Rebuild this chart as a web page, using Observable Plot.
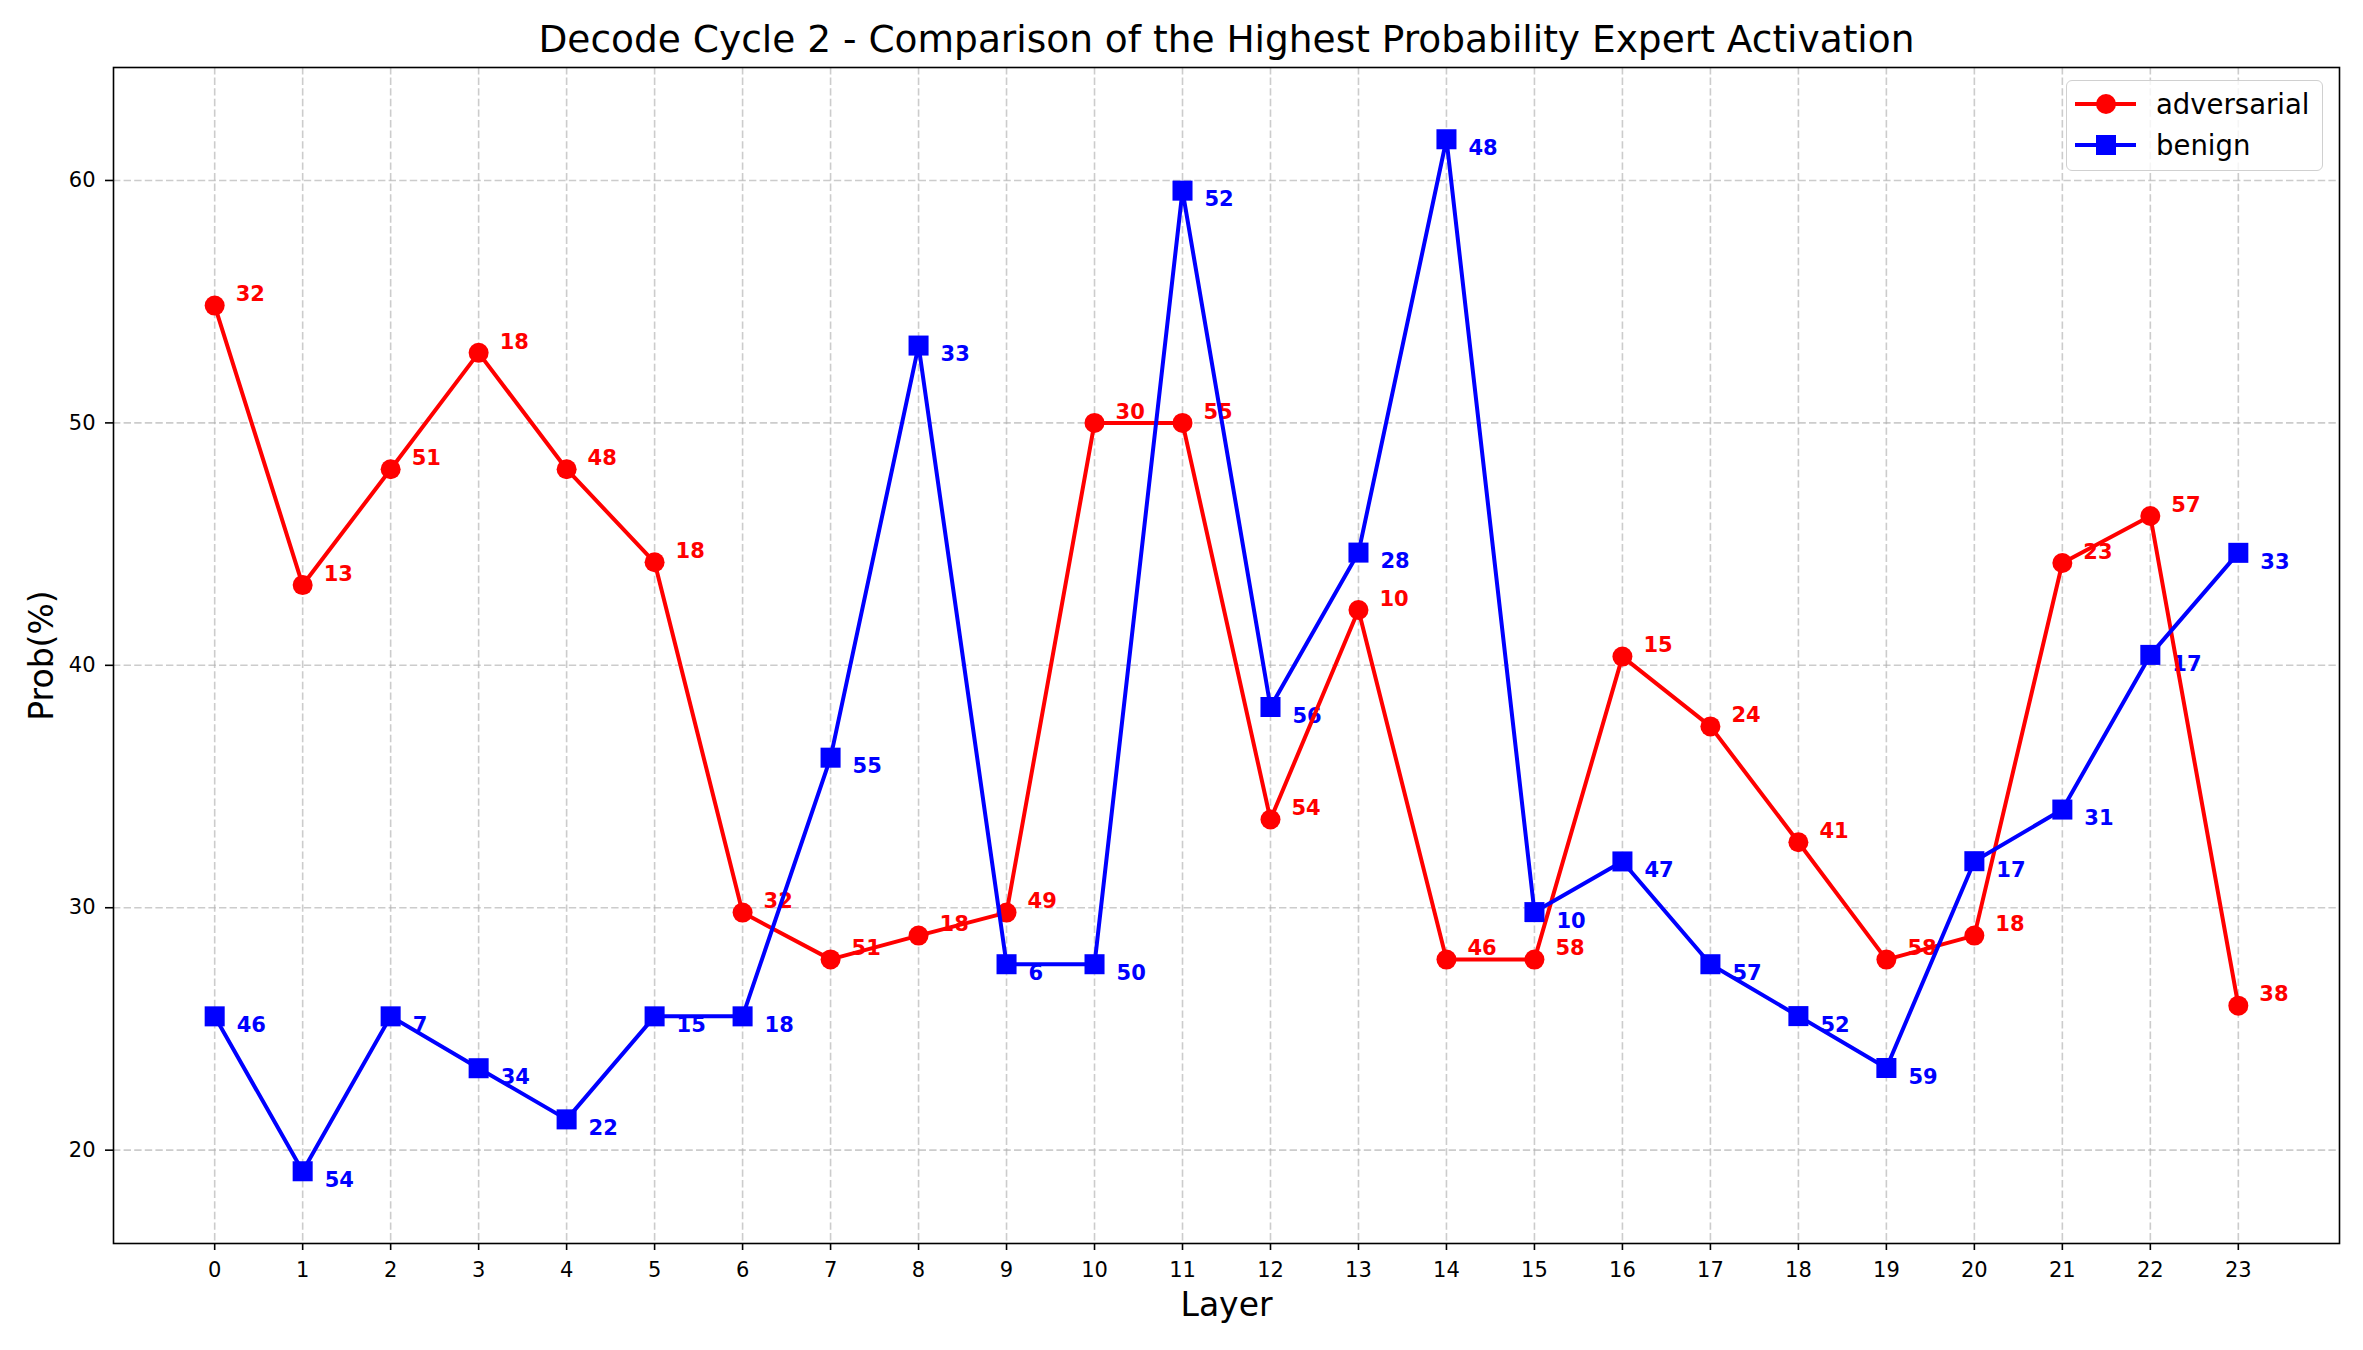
<!DOCTYPE html>
<html>
<head>
<meta charset="utf-8">
<script src="https://cdn.jsdelivr.net/npm/d3@7"></script>
<script src="https://cdn.jsdelivr.net/npm/@observablehq/plot@0.6"></script>
<style>
  html, body { margin: 0; padding: 0; background: white; overflow: hidden; }
  #wrap { position: relative; width: 2363px; height: 1350px; }
  #legend { position: absolute; left: 2066px; top: 80px; width: 257px; height: 91px;
            box-sizing: border-box; border: 1.6px solid #d0d0d0; border-radius: 6px;
            background: rgba(255,255,255,0.8); }
  #legend svg { position: absolute; left: 0; top: 0; }
</style>
</head>
<body>
<div id="wrap"></div>
<script>
const titleText = "Decode Cycle 2 - Comparison of the Highest Probability Expert Activation";
const xLabel = "Layer";
const yLabel = "Prob(%)";
const seriesNames = ["adversarial", "benign"];
const layers = [0,1,2,3,4,5,6,7,8,9,10,11,12,13,14,15,16,17,18,19,20,21,22,23];
const yTicks = [20, 30, 40, 50, 60];

const advProb = [54.84, 43.31, 48.09, 52.89, 48.09, 44.25, 29.8, 27.87, 28.85, 29.8, 50.0, 50.0,
                 33.64, 42.28, 27.86, 27.86, 40.36, 37.48, 32.7, 27.86, 28.85, 44.22, 46.16, 25.96];
const advExpert = [32, 13, 51, 18, 48, 18, 32, 51, 18, 49, 30, 55, 54, 10, 46, 58, 15, 24, 41, 58, 18, 23, 57, 38];

const benProb = [25.52, 19.13, 25.52, 23.38, 21.27, 25.52, 25.52, 36.19, 53.19, 27.67, 27.67, 59.58,
                 38.28, 44.65, 61.70, 29.82, 31.91, 27.67, 25.53, 23.39, 31.92, 34.05, 40.43, 44.64];
const benExpert = [46, 54, 7, 34, 22, 15, 18, 55, 33, 6, 50, 52, 56, 28, 48, 10, 47, 57, 52, 59, 17, 31, 17, 33];

const adv = layers.map((l, i) => ({layer: l, prob: advProb[i], expert: String(advExpert[i])}));
const ben = layers.map((l, i) => ({layer: l, prob: benProb[i], expert: String(benExpert[i])}));

const gridStyle = {stroke: "#b0b0b0", strokeOpacity: 0.65, strokeWidth: 1.6, strokeDasharray: "7.4,3.2"};

const chart = Plot.plot({
  width: 2363,
  height: 1350,
  marginTop: 67,
  marginBottom: 107,
  marginLeft: 113,
  marginRight: 24,
  style: {fontFamily: "DejaVu Sans", background: "white", color: "black"},
  x: {type: "linear", domain: [-1.15, 24.15]},
  y: {type: "linear", domain: [16.15, 64.66]},
  marks: [
    Plot.gridX(layers, gridStyle),
    Plot.gridY(yTicks, gridStyle),
    Plot.axisX(layers, {tickSize: 7, tickPadding: 12, fontSize: 21, strokeWidth: 1.6, label: null, tickFormat: d => String(d)}),
    Plot.axisY(yTicks, {tickSize: 8, tickPadding: 10, fontSize: 21, strokeWidth: 1.6, label: null, tickFormat: d => String(d)}),
    Plot.text(adv, {x: "layer", y: "prob", text: "expert", fill: "red", fontWeight: "bold", fontSize: 21,
                    textAnchor: "start", lineAnchor: "middle", dx: 21, dy: -11}),
    Plot.text(ben, {x: "layer", y: "prob", text: "expert", fill: "blue", fontWeight: "bold", fontSize: 21,
                    textAnchor: "start", lineAnchor: "middle", dx: 22, dy: 9}),
    Plot.line(adv, {x: "layer", y: "prob", stroke: "red", strokeWidth: 4}),
    Plot.dot(adv, {x: "layer", y: "prob", r: 10, fill: "red", symbol: "circle"}),
    Plot.line(ben, {x: "layer", y: "prob", stroke: "blue", strokeWidth: 4}),
    Plot.dot(ben, {x: "layer", y: "prob", r: 11.3, fill: "blue", symbol: "square"}),
    Plot.frame({stroke: "black", strokeWidth: 1.6}),
    Plot.text([titleText], {text: d => d, frameAnchor: "top", dy: -28, lineAnchor: "middle", textAnchor: "middle", fontSize: 37.5, fill: "black"}),
    Plot.text([xLabel], {text: d => d, frameAnchor: "bottom", dy: 62, lineAnchor: "middle", textAnchor: "middle", fontSize: 33, fill: "black"}),
    Plot.text([yLabel], {text: d => d, frameAnchor: "left", dx: -71, rotate: -90, lineAnchor: "middle", textAnchor: "middle", fontSize: 33, fill: "black"})
  ]
});

const wrap = document.getElementById("wrap");
wrap.appendChild(chart);

// legend
const legend = document.createElement("div");
legend.id = "legend";
const ns = "http://www.w3.org/2000/svg";
const lsvg = document.createElementNS(ns, "svg");
lsvg.setAttribute("width", 257);
lsvg.setAttribute("height", 91);
const entries = [
  {name: seriesNames[0], color: "red", shape: "circle", y: 23},
  {name: seriesNames[1], color: "blue", shape: "square", y: 64}
];
for (const e of entries) {
  const ln = document.createElementNS(ns, "line");
  ln.setAttribute("x1", 8); ln.setAttribute("x2", 69);
  ln.setAttribute("y1", e.y); ln.setAttribute("y2", e.y);
  ln.setAttribute("stroke", e.color); ln.setAttribute("stroke-width", 4);
  lsvg.appendChild(ln);
  if (e.shape === "circle") {
    const c = document.createElementNS(ns, "circle");
    c.setAttribute("cx", 39); c.setAttribute("cy", e.y); c.setAttribute("r", 10);
    c.setAttribute("fill", e.color);
    lsvg.appendChild(c);
  } else {
    const r = document.createElementNS(ns, "rect");
    r.setAttribute("x", 29); r.setAttribute("y", e.y - 10); r.setAttribute("width", 20); r.setAttribute("height", 20);
    r.setAttribute("fill", e.color);
    lsvg.appendChild(r);
  }
  const t = document.createElementNS(ns, "text");
  t.setAttribute("x", 89); t.setAttribute("y", e.y);
  t.setAttribute("dy", "0.35em");
  t.setAttribute("font-family", "DejaVu Sans");
  t.setAttribute("font-size", 27.5);
  t.setAttribute("fill", "black");
  t.textContent = e.name;
  lsvg.appendChild(t);
}
legend.appendChild(lsvg);
wrap.appendChild(legend);
</script>
</body>
</html>
